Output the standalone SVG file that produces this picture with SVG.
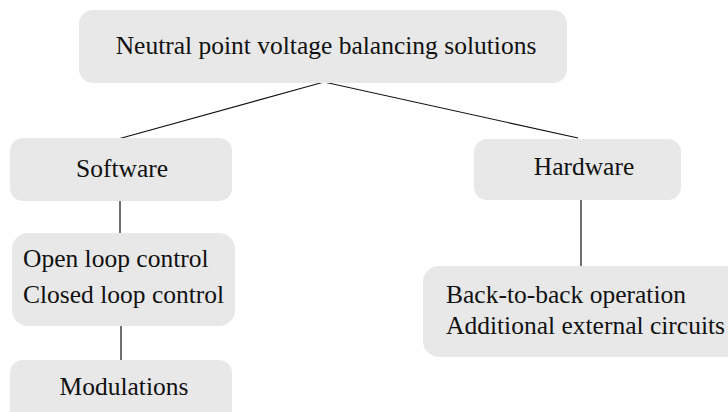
<svg xmlns="http://www.w3.org/2000/svg" width="728" height="412" viewBox="0 0 728 412">
<style>
.box{fill:#e8e8e8;}
.t{font-family:"Liberation Serif","Times New Roman",serif;font-size:25.5px;fill:#111;}
.c{stroke:#111;stroke-width:1.2;fill:none;}
</style>
<rect width="728" height="412" fill="#fff"/>
<g id="connectors">
<polyline class="c" points="118,139 324,82 578,138"/>
<line class="c" x1="120" y1="201" x2="120" y2="233"/>
<line class="c" x1="121" y1="326" x2="121" y2="360"/>
<line class="c" x1="581" y1="200" x2="581" y2="266"/>
</g>
<g id="root">
<rect class="box" x="79" y="10" width="488" height="73" rx="14"/>
<text class="t" x="326" y="54" text-anchor="middle">Neutral point voltage balancing solutions</text>
</g>
<g id="software">
<rect class="box" x="10" y="138" width="222" height="63" rx="13"/>
<text class="t" x="122" y="177" text-anchor="middle">Software</text>
</g>
<g id="hardware">
<rect class="box" x="474" y="139" width="207" height="61" rx="13"/>
<text class="t" x="584" y="175" text-anchor="middle">Hardware</text>
</g>
<g id="control">
<rect class="box" x="12" y="233" width="223" height="93" rx="16"/>
<text class="t" x="23" y="267">Open loop control</text>
<text class="t" x="23" y="303">Closed loop control</text>
</g>
<g id="modulations">
<rect class="box" x="10" y="360" width="222" height="70" rx="13"/>
<text class="t" x="124" y="395" text-anchor="middle">Modulations</text>
</g>
<g id="hw-options">
<rect class="box" x="423" y="266" width="320" height="91" rx="16"/>
<text class="t" x="446" y="303">Back-to-back operation</text>
<text class="t" x="446" y="334">Additional external circuits</text>
</g>
</svg>
